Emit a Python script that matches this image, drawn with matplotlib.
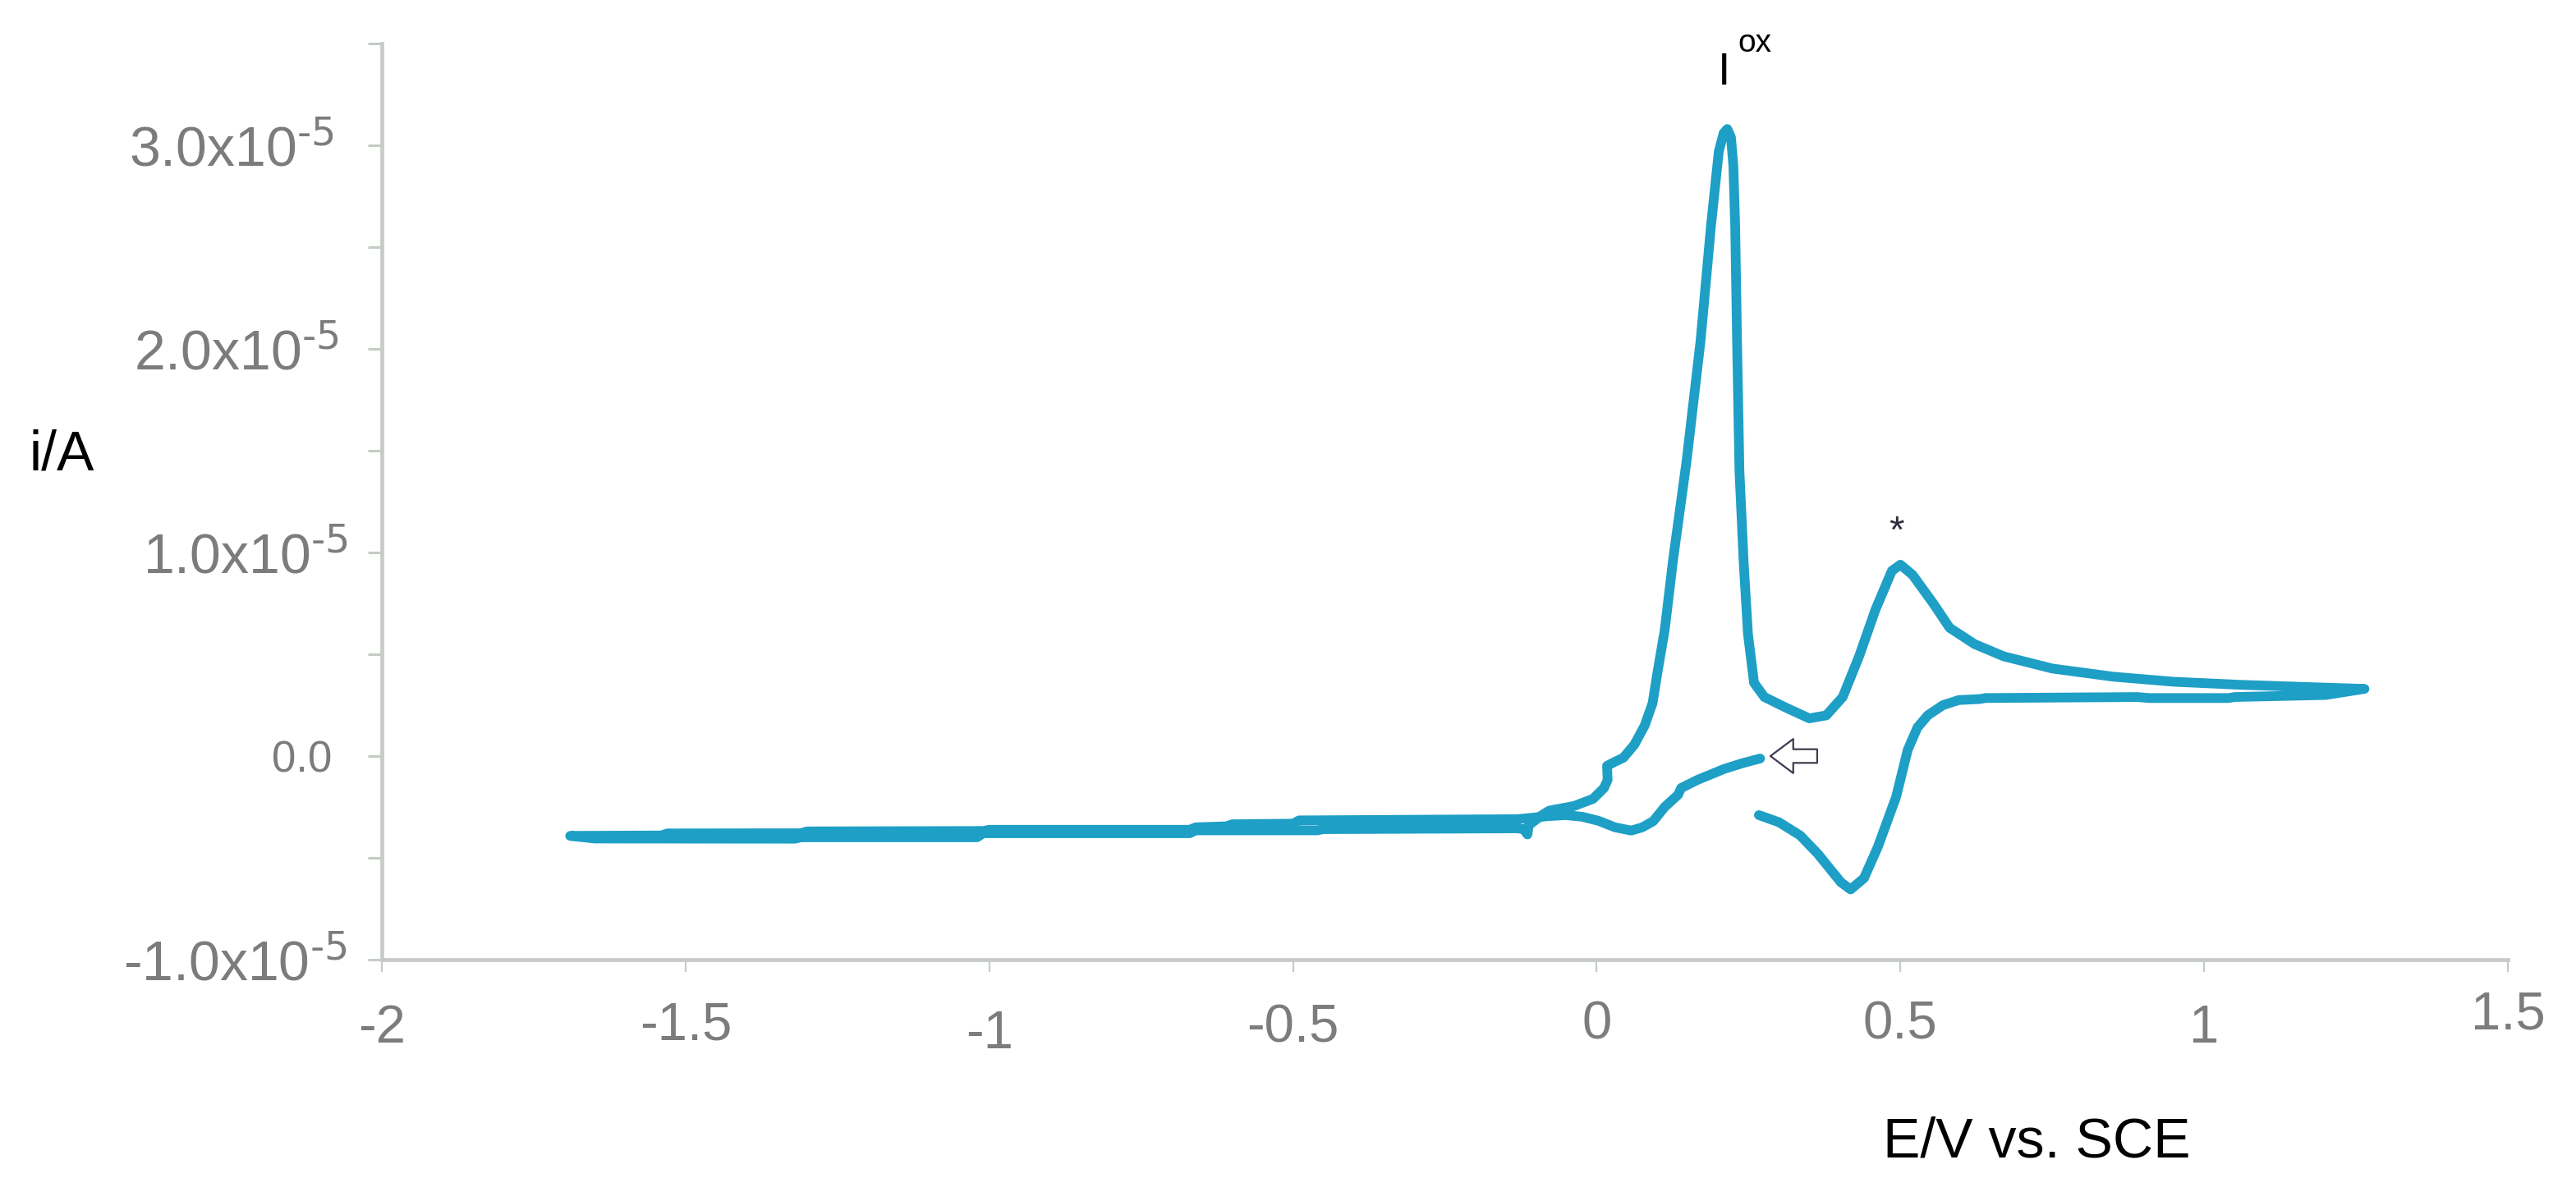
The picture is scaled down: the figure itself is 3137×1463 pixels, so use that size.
import matplotlib.pyplot as plt
import matplotlib.transforms as mtransforms
import numpy as np

plt.rcParams['font.family'] = ['Liberation Sans', 'DejaVu Sans']
plt.rcParams['mathtext.default'] = 'regular'
plt.rcParams['axes.unicode_minus'] = False

UNIT = 1e-5  # currents below are given in units of 1e-5 A

# scan starts at the arrow and runs towards negative potentials
start_E = [0.269, 0.24, 0.21, 0.166, 0.139, 0.134, 0.112, 0.093, 0.075, 0.057, 0.030,
           0.003, -0.024, -0.051, -0.08, -0.13, -0.49, -0.5, -0.6, -0.61, -0.66, -0.67,
           -1.0, -1.01, -1.3, -1.31, -1.53, -1.54, -1.69]
start_i = [-0.012, -0.035, -0.063, -0.117, -0.157, -0.19, -0.25, -0.32, -0.35, -0.366, -0.35,
           -0.318, -0.298, -0.29, -0.295, -0.31, -0.316, -0.332, -0.335, -0.345, -0.35, -0.362,
           -0.362, -0.368, -0.37, -0.379, -0.38, -0.39, -0.392]

# forward sweep
forward_E = [-1.69, -1.65, -1.32, -1.31, -1.02, -1.01, -0.67, -0.66, -0.46, -0.45, -0.13,
             -0.12, -0.114, -0.112, -0.09, -0.078, -0.037, -0.006, 0.012, 0.018, 0.017,
             0.030, 0.044, 0.062, 0.079, 0.092, 0.100, 0.112, 0.126, 0.148, 0.171, 0.188,
             0.201, 0.209, 0.215, 0.221, 0.225, 0.228, 0.231, 0.235, 0.242, 0.249, 0.259,
             0.276, 0.31, 0.35, 0.378, 0.405, 0.432, 0.459, 0.486, 0.50, 0.52, 0.554,
             0.581, 0.622, 0.67, 0.75, 0.85, 0.95, 1.06, 1.16, 1.264]
forward_i = [-0.392, -0.405, -0.406, -0.399, -0.399, -0.379, -0.379, -0.365, -0.365, -0.359, -0.355,
             -0.36, -0.385, -0.34, -0.29, -0.268, -0.245, -0.21, -0.157, -0.117, -0.048,
             -0.028, -0.008, 0.056, 0.15, 0.26, 0.41, 0.62, 0.97, 1.45, 2.04, 2.6,
             2.97, 3.06, 3.08, 3.04, 2.9, 2.6, 2.05, 1.4, 0.95, 0.6, 0.36,
             0.29, 0.24, 0.185, 0.2, 0.29, 0.49, 0.72, 0.91, 0.94, 0.89, 0.75,
             0.63, 0.55, 0.49, 0.43, 0.39, 0.365, 0.35, 0.34, 0.33]

# return sweep
return_E = [1.264, 1.2, 1.05, 1.04, 0.91, 0.89, 0.64, 0.63, 0.596, 0.57, 0.545, 0.528,
            0.512, 0.493, 0.463, 0.44, 0.418, 0.402, 0.364, 0.335, 0.30, 0.267]
return_i = [0.33, 0.30, 0.29, 0.285, 0.285, 0.29, 0.285, 0.28, 0.275, 0.25, 0.2, 0.14,
            0.03, -0.2, -0.445, -0.6, -0.655, -0.62, -0.48, -0.39, -0.325, -0.29]

x_ticks = [-2, -1.5, -1, -0.5, 0, 0.5, 1, 1.5]
x_tick_labels = ['-2', '-1.5', '-1', '-0.5', '0', '0.5', '1', '1.5']
y_ticks = [-1, 0, 1, 2, 3]
y_tick_labels = [r'-1.0x10$^{\text{-5}}$', '0.0', r'1.0x10$^{\text{-5}}$',
                 r'2.0x10$^{\text{-5}}$', r'3.0x10$^{\text{-5}}$']
y_minor = [-0.5, 0.5, 1.5, 2.5, 3.5]

line_color = '#1e9fc6'
axis_color = '#c5cbc5'
label_gray = '#7c7c7c'

fig = plt.figure(figsize=(31.37, 14.63), dpi=100)
ax = fig.add_axes([0.14823, 0.20096, 0.82531, 0.76281])

E = np.concatenate([start_E, forward_E, return_E])
cur = np.concatenate([start_i, forward_i, return_i]) * UNIT
ax.plot(E, cur, color=line_color, linewidth=8.5, solid_capstyle='round',
        solid_joinstyle='round')

ax.set_xlim(-2, 1.5)
ax.set_ylim(-1 * UNIT, 3.5 * UNIT)

for s in ['top', 'right']:
    ax.spines[s].set_visible(False)
for s in ['left', 'bottom']:
    ax.spines[s].set_color(axis_color)
    ax.spines[s].set_linewidth(3.4)

ax.set_xticks(x_ticks)
ax.set_xticklabels(x_tick_labels)
ax.set_yticks([t * UNIT for t in y_ticks])
ax.set_yticklabels(y_tick_labels)
ax.set_yticks([t * UNIT for t in y_minor], minor=True)

ax.tick_params(axis='x', direction='out', length=11, width=1.6, color=axis_color,
               labelsize=47, labelcolor=label_gray, pad=25)
ax.tick_params(axis='y', which='both', direction='out', length=12, width=2.2,
               color=axis_color, labelsize=49, labelcolor=label_gray, pad=30)

# small irregular offsets of the labels in the original (pixels)
x_dy = [4, 1, 11, 4, 0, 0, 4, -12]
for lab, dy in zip(ax.get_xticklabels(), x_dy):
    lab.set_transform(lab.get_transform() +
                      mtransforms.ScaledTranslation(0, -dy / 100, fig.dpi_scale_trans))
y_dx = [16, -2, 17, 6, 0]
for lab, dx in zip(ax.get_yticklabels(), y_dx):
    lab.set_transform(lab.get_transform() +
                      mtransforms.ScaledTranslation(dx / 100, 0, fig.dpi_scale_trans))
ax.get_yticklabels()[1].set_fontsize(38)

fig.text(0.0239, 0.609, 'i/A', fontsize=49, color='black', ha='center', va='baseline')
fig.text(0.7906, 0.0369, 'E/V vs. SCE', fontsize=49, color='black', ha='center',
         va='baseline')

ax.text(0.2103, 3.30 * UNIT, 'I', fontsize=40, ha='center', va='baseline', clip_on=False)
ax.text(0.2318, 3.46 * UNIT, 'ox', fontsize=28, ha='left', va='baseline', clip_on=False)
ax.text(0.494, 1.05 * UNIT, '*', fontsize=34, color='#2e2e3a', ha='center', va='baseline')

ax.annotate('', xy=(0.286, 0), xytext=(0.363, 0),
            arrowprops=dict(arrowstyle='simple,head_length=1.0,head_width=1.5,tail_width=0.6',
                            mutation_scale=20, fc='white', ec='#3c3c50', lw=1.6,
                            shrinkA=0, shrinkB=0))

fig.savefig('out.png', dpi=100)
